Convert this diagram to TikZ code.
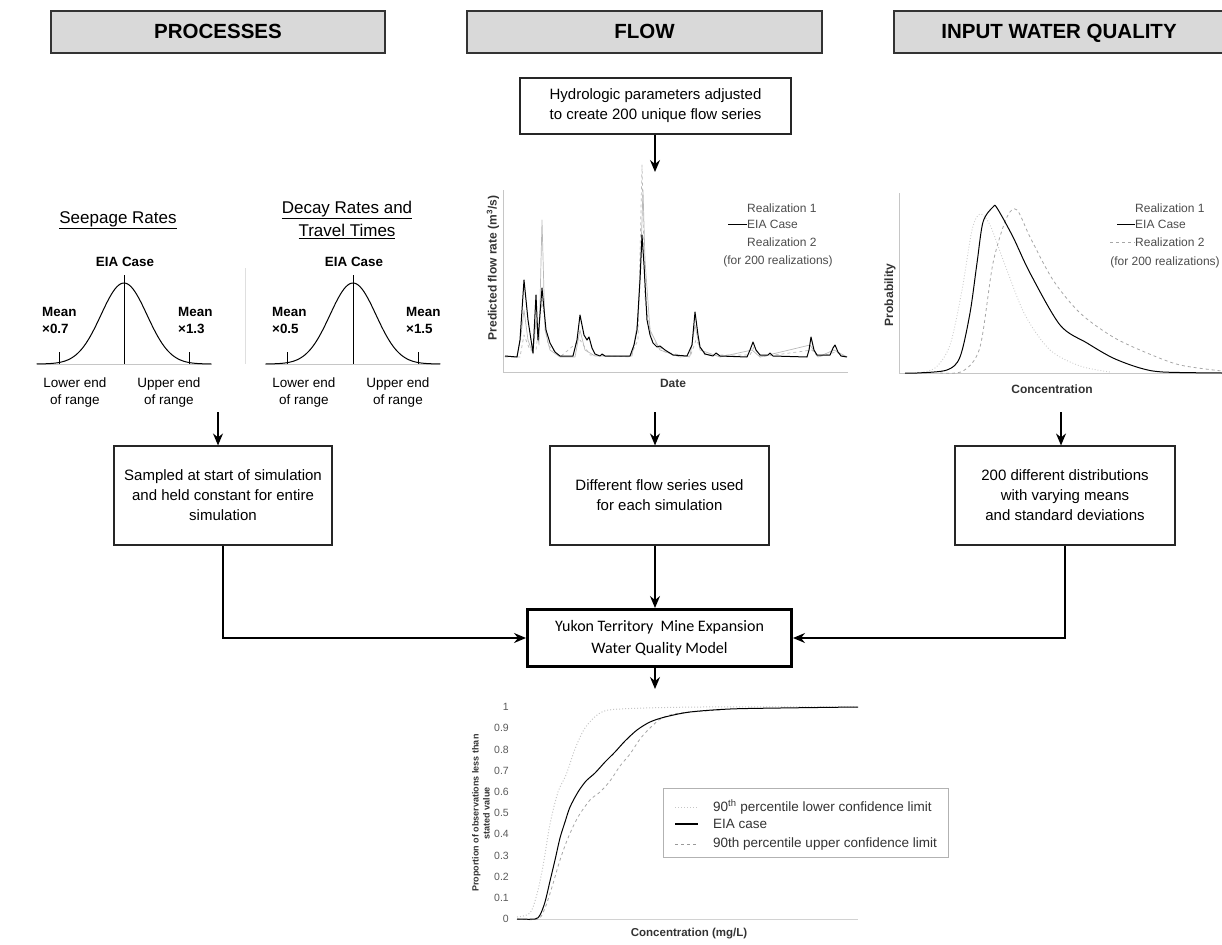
\documentclass[tikz,border=0pt]{standalone}
\usepackage{fontspec}
\setmainfont{Liberation Sans}
\newfontfamily\calib{Carlito}
\usetikzlibrary{arrows.meta,calc}
\begin{document}
\begin{tikzpicture}[x=1pt,y=-1pt,
  hdr/.style={draw=black!80, line width=1.4pt, fill=gray!30, minimum height=42pt, inner sep=0pt, text height=15pt, text depth=1pt, font=\fontsize{20.5}{24}\selectfont\bfseries},
  bx/.style={draw=black!85, line width=1.1pt, fill=white, align=center, inner sep=0pt, font=\fontsize{15}{20}\selectfont},
  arr/.style={-{Stealth[length=12pt,width=10pt,inset=4pt]}, line width=1.4pt},
  lbl/.style={font=\fontsize{13.5}{17}\selectfont, inner sep=0pt, align=center},
  blbl/.style={font=\fontsize{13.4}{16}\selectfont\bfseries, inner sep=0pt, align=left},
  ttl/.style={font=\fontsize{17}{23}\selectfont, inner sep=0pt, align=center},
  leg/.style={font=\fontsize{12}{14}\selectfont, text=black!70, inner sep=0pt},
  axl/.style={font=\fontsize{12}{14}\selectfont\bfseries, text=black!80, inner sep=0pt, align=center},
  tck/.style={font=\fontsize{10.5}{12}\selectfont, text=black!65, inner sep=0pt, anchor=east},
  curve/.style={line width=1pt, line join=round},
  faint/.style={gray!55, line width=0.7pt, line join=round},
  axis/.style={gray!45, line width=0.9pt}
]
\useasboundingbox (0,0) rectangle (1222,944);

% ---------- headers ----------
\node[hdr, minimum width=334pt] (hproc) at (218,32) {PROCESSES};
\node[hdr, minimum width=355pt] (hflow) at (644.5,32) {FLOW};
\node[hdr, minimum width=330pt] (hiwq) at (1059,32) {INPUT WATER QUALITY};

% ---------- processes: distributions ----------
\node[ttl] (tseep) at (118,220) {\underline{Seepage Rates}};
\node[ttl] (tdecay) at (347,220) {\underline{Decay Rates and}\\\underline{Travel Times}};
\node[blbl] (eia1) at (125,262) {EIA Case};
\node[blbl] (eia2) at (354,262) {EIA Case};

\draw[axis] (37,364) -- (212,364);
\draw[axis] (265,364) -- (440,364);
\draw[gray!25, line width=0.8pt] (245,268) -- (245,364);
\draw[curve] plot[domain=-3.8:3.8,samples=90,smooth] ({124+23*\x},{364-81*exp(-\x*\x/2)});
\draw[curve] plot[domain=-3.8:3.8,samples=90,smooth] ({353+23*\x},{364-81*exp(-\x*\x/2)});
\draw[line width=1pt] (124,275) -- (124,364);
\draw[line width=1pt] (353,275) -- (353,364);
\draw[line width=0.9pt] (59,352) -- (59,364) (189,352) -- (189,364);
\draw[line width=0.9pt] (287,352) -- (287,364) (418,352) -- (418,364);

\node[blbl, anchor=west] (m1) at (42,320) {Mean\\[1pt]×0.7};
\node[blbl, anchor=west] (m2) at (178,320) {Mean\\[1pt]×1.3};
\node[blbl, anchor=west] (m3) at (272,320) {Mean\\[1pt]×0.5};
\node[blbl, anchor=west] (m4) at (406,320) {Mean\\[1pt]×1.5};

\node[lbl] (lo1) at (75,393) {Lower end\\of range};
\node[lbl] (up1) at (169,393) {Upper end\\of range};
\node[lbl] (lo2) at (304,393) {Lower end\\of range};
\node[lbl] (up2) at (398,393) {Upper end\\of range};

% ---------- flow ----------
\node[bx, minimum width=271pt, minimum height=56pt] (hyd) at (655.5,106) {Hydrologic parameters adjusted\\to create 200 unique flow series};
\coordinate (flowtop) at (655,172);
\draw[arr] (hyd.south -| flowtop) -- (flowtop);

\draw[axis] (503,190) -- (503,372) -- (848,372);
\draw[faint, dashed] plot coordinates {(505,357) (520,357) (524,335) (530,350) (536,350) (542,300) (548,345) (560,357) (580,340) (590,355) (630,357) (638,340) (642,165) (645,300) (652,340) (665,352) (690,357) (696,340) (705,355) (750,355) (754,347) (760,357) (812,350) (818,357) (836,352) (847,357)};
\draw[faint] plot coordinates {(505,356) (517,357) (521,335) (524,310) (528,340) (533,354) (536,320) (539,345) (542,220) (545,330) (550,350) (560,357) (575,357) (580,330) (585,350) (595,356) (632,356) (638,320) (641,250) (643,190) (645,260) (650,330) (660,350) (680,357) (690,356) (695,325) (700,350) (720,357) (752,350) (760,357) (810,345) (818,357) (834,350) (847,357)};
\draw[curve] plot coordinates {(505,356) (517,357) (520,340) (524,280) (528,320) (533,353) (536,295) (538,340) (542,288) (546,330) (550,343) (555,352) (560,356) (573,356) (577,340) (580,315) (584,335) (587,340) (589,337) (592,348) (595,354) (600,356) (602,354) (605,356) (630,356) (634,345) (637,330) (640,280) (642,235) (644,265) (647,320) (650,335) (653,343) (657,347) (660,346) (665,350) (673,355) (687,356) (692,345) (695,312) (698,335) (700,347) (705,354) (713,356) (716,353) (720,356) (747,357) (750,350) (753,342) (756,350) (760,355) (768,355) (770,353) (773,356) (807,357) (809,350) (811,337) (814,350) (817,355) (830,355) (833,348) (835,345) (838,352) (841,356) (847,357)};

\node[axl, rotate=90] (fylab) at (493,268) {Predicted flow rate (m\textsuperscript{3}/s)};
\node[axl] (fxlab) at (673,383) {Date};
\node[leg, anchor=west] (fl1) at (747,208) {Realization 1};
\node[leg, anchor=west] (fl2) at (747,224) {EIA Case};
\node[leg, anchor=west] (fl3) at (747,242) {Realization 2};
\node[leg] (fl4) at (778,261) {(for 200 realizations)};
\draw[line width=0.9pt] (728,224) -- (fl2.west);

% ---------- input water quality ----------
\draw[axis] (899,193) -- (899,373) -- (1222,373);
\draw[gray!40, dotted, line width=0.9pt] plot[smooth] coordinates {(915,373) (935,368) (950,345) (962,290) (972,230) (980,214) (990,225) (1005,265) (1025,315) (1050,350) (1080,366) (1110,372)};
\draw[gray!70, dashed, line width=0.8pt] plot[smooth] coordinates {(940,373) (963,371) (980,347) (993,263) (1007,217) (1017,210) (1030,237) (1053,280) (1080,313) (1113,337) (1147,353) (1180,365) (1222,371)};
\draw[curve] plot[smooth] coordinates {(905,373) (917,373) (947,370) (960,357) (970,313) (977,263) (983,222) (993,207) (997,208) (1013,237) (1030,273) (1060,325) (1087,343) (1113,358) (1140,368) (1163,372) (1222,373)};

\node[axl, rotate=90] (iylab) at (890,295) {Probability};
\node[axl] (ixlab) at (1052,389) {Concentration};
\node[leg, anchor=west] (il1) at (1135,208) {Realization 1};
\node[leg, anchor=west] (il2) at (1135,224) {EIA Case};
\node[leg, anchor=west] (il3) at (1135,242) {Realization 2};
\node[leg] (il4) at (1165,262) {(for 200 realizations)};
\draw[line width=0.9pt] (1117,224) -- (il2.west);
\draw[gray!70, dashed, line width=0.8pt] (1110,242) -- (il3.west);

% ---------- boxes ----------
\node[bx, minimum width=218pt, minimum height=99pt] (box1) at (223,495.5) {Sampled at start of simulation\\and held constant for entire\\simulation};
\node[bx, minimum width=219pt, minimum height=99pt] (box2) at (659.5,495.5) {Different flow series used\\for each simulation};
\node[bx, minimum width=220pt, minimum height=99pt] (box3) at (1065,495.5) {200 different distributions\\with varying means\\and standard deviations};
\node[draw=black, line width=3pt, minimum width=264pt, minimum height=57pt, align=center, inner sep=0pt, font=\calib\fontsize{16}{22}\selectfont] (model) at (659.5,638) {Yukon Territory\ \ Mine Expansion\\Water Quality Model};

\coordinate (pa) at (218,412);
\coordinate (fa) at (655,412);
\coordinate (ia) at (1061,412);
\draw[arr] (pa) -- (box1.north -| pa);
\draw[arr] (fa) -- (box2.north -| fa);
\draw[arr] (ia) -- (box3.north -| ia);
\draw[arr] (box1.south) |- (model.west);
\draw[arr] (box2.south -| fa) -- (model.north -| fa);
\draw[arr] (box3.south) |- (model.east);
\coordinate (cdftop) at (655,689);
\draw[arr] (model.south -| cdftop) -- (cdftop);

% ---------- cumulative distribution ----------
\foreach \v/\t in {0/0,1/0.1,2/0.2,3/0.3,4/0.4,5/0.5,6/0.6,7/0.7,8/0.8,9/0.9,10/1}{
  \node[tck] (tick\v) at (509,{919-21.2*\v}) {\t};
}
\draw[gray!35, line width=0.8pt] (517,919) -- (858,919);
\draw[gray!45, dotted, line width=1pt] plot[smooth] coordinates {(517,917) (530,913) (537,894) (543,866) (550,824) (558,792) (566,775) (575,749) (585,728) (600,713) (620,709) (700,707) (858,707)};
\draw[gray!70, dashed, line width=0.8pt] plot[smooth] coordinates {(517,919) (538,919) (545,908) (552,887) (560,860) (568,838) (578,817) (590,800) (600,792) (610,781) (620,766) (630,754) (640,739) (650,728) (662,718) (680,713) (720,710)};
\draw[curve] plot[smooth] coordinates {(517,919) (535,919) (540,915) (545,902) (550,881) (555,860) (560,838) (565,822) (570,807) (578,792) (586,781) (595,773) (605,762) (615,752) (625,741) (637,730) (650,722) (665,717) (690,712) (730,709) (780,708) (858,707)};

\node[axl, rotate=90, font=\fontsize{9}{11}\selectfont\bfseries] (cylab) at (481,813) {Proportion of observations less than\\stated value};
\node[axl, font=\fontsize{11.5}{14}\selectfont\bfseries] (cxlab) at (689,934) {Concentration (mg/L)};

\draw[gray!60, line width=0.8pt] (663,788) rectangle (948,857);
\draw[gray!45, dotted, line width=1pt] (675,807) -- (698,807);
\draw[line width=1.2pt] (675,824) -- (698,824);
\draw[gray!80, dashed, line width=1pt] (675,844) -- (698,844);
\node[leg, anchor=west, font=\fontsize{13.5}{16}\selectfont, text=black!80] (cl1) at (713,807) {90\textsuperscript{th} percentile lower confidence limit};
\node[leg, anchor=west, font=\fontsize{13.5}{16}\selectfont, text=black!80] (cl2) at (713,824) {EIA case};
\node[leg, anchor=west, font=\fontsize{13.5}{16}\selectfont, text=black!80] (cl3) at (713,844) {90th percentile upper confidence limit};
\end{tikzpicture}
\end{document}
